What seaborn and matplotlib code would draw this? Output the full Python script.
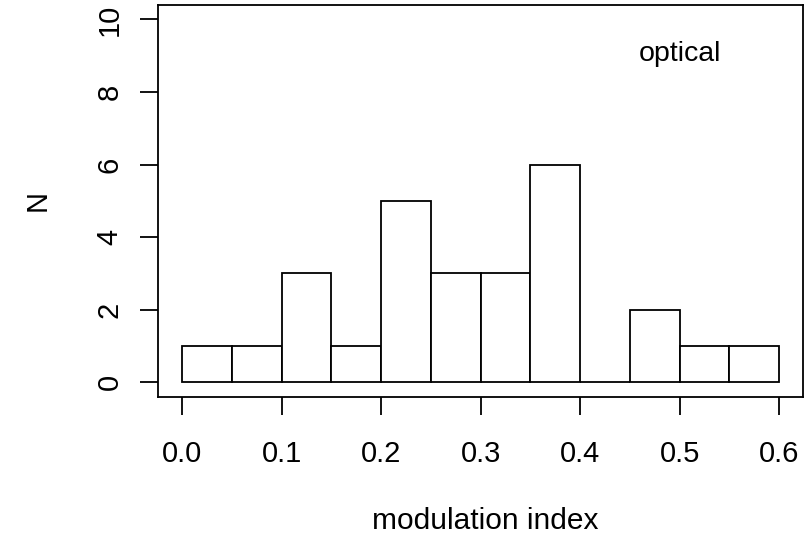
import numpy as np
import pandas as pd
import matplotlib
matplotlib.use("Agg")
import matplotlib.pyplot as plt
import seaborn as sns

# Histogram of modulation index (optical band): bin breaks and counts per bin
breaks = [0.00, 0.05, 0.10, 0.15, 0.20, 0.25, 0.30, 0.35, 0.40, 0.45, 0.50, 0.55, 0.60]
counts = [1, 1, 3, 1, 5, 3, 3, 6, 0, 2, 1, 1]
x_ticks = [0.0, 0.1, 0.2, 0.3, 0.4, 0.5, 0.6]
x_tick_labels = ["0.0", "0.1", "0.2", "0.3", "0.4", "0.5", "0.6"]
y_ticks = [0, 2, 4, 6, 8, 10]
y_tick_labels = ["0", "2", "4", "6", "8", "10"]
x_title = "modulation index"
y_title = "N"
panel_label = "optical"

sns.set_style("ticks")
plt.rcParams["font.family"] = ["Liberation Sans", "DejaVu Sans"]

b = np.asarray(breaks)
df = pd.DataFrame({"mid": (b[:-1] + b[1:]) / 2, "n": counts})

fig = plt.figure(figsize=(8.08, 5.36), dpi=100)
ax = fig.add_axes([0.1959, 0.2599, 0.7979, 0.7308])

lw = 1.3
sns.histplot(data=df, x="mid", weights="n", bins=breaks, ax=ax,
             color="white", edgecolor="black", linewidth=lw, alpha=1)

ax.set_xlim(-0.024, 0.624)
ax.set_ylim(-0.4, 10.4)
ax.set_xticks(x_ticks)
ax.set_xticklabels(x_tick_labels)
ax.set_yticks(y_ticks)
ax.set_yticklabels(y_tick_labels, rotation=90, va="center")

for s in ax.spines.values():
    s.set_visible(True)
    s.set_linewidth(lw)
    s.set_color("black")

ax.tick_params(axis="both", direction="out", length=13, width=lw,
               color="black", labelsize=21, labelcolor="black")
ax.tick_params(axis="x", pad=18)
ax.tick_params(axis="y", pad=12)

ax.set_xlabel(x_title, fontsize=21.5, color="black")
ax.set_ylabel(y_title, fontsize=21, color="black")
ax.xaxis.set_label_coords(0.5 + (485 - 480.6) / 644.7, -0.281)
ax.yaxis.set_label_coords(-0.165, 0.5)

ax.text(0.5, 9.05, panel_label, ha="center", va="center", fontsize=20.5, color="black")

fig.savefig("out.png", dpi=100)
